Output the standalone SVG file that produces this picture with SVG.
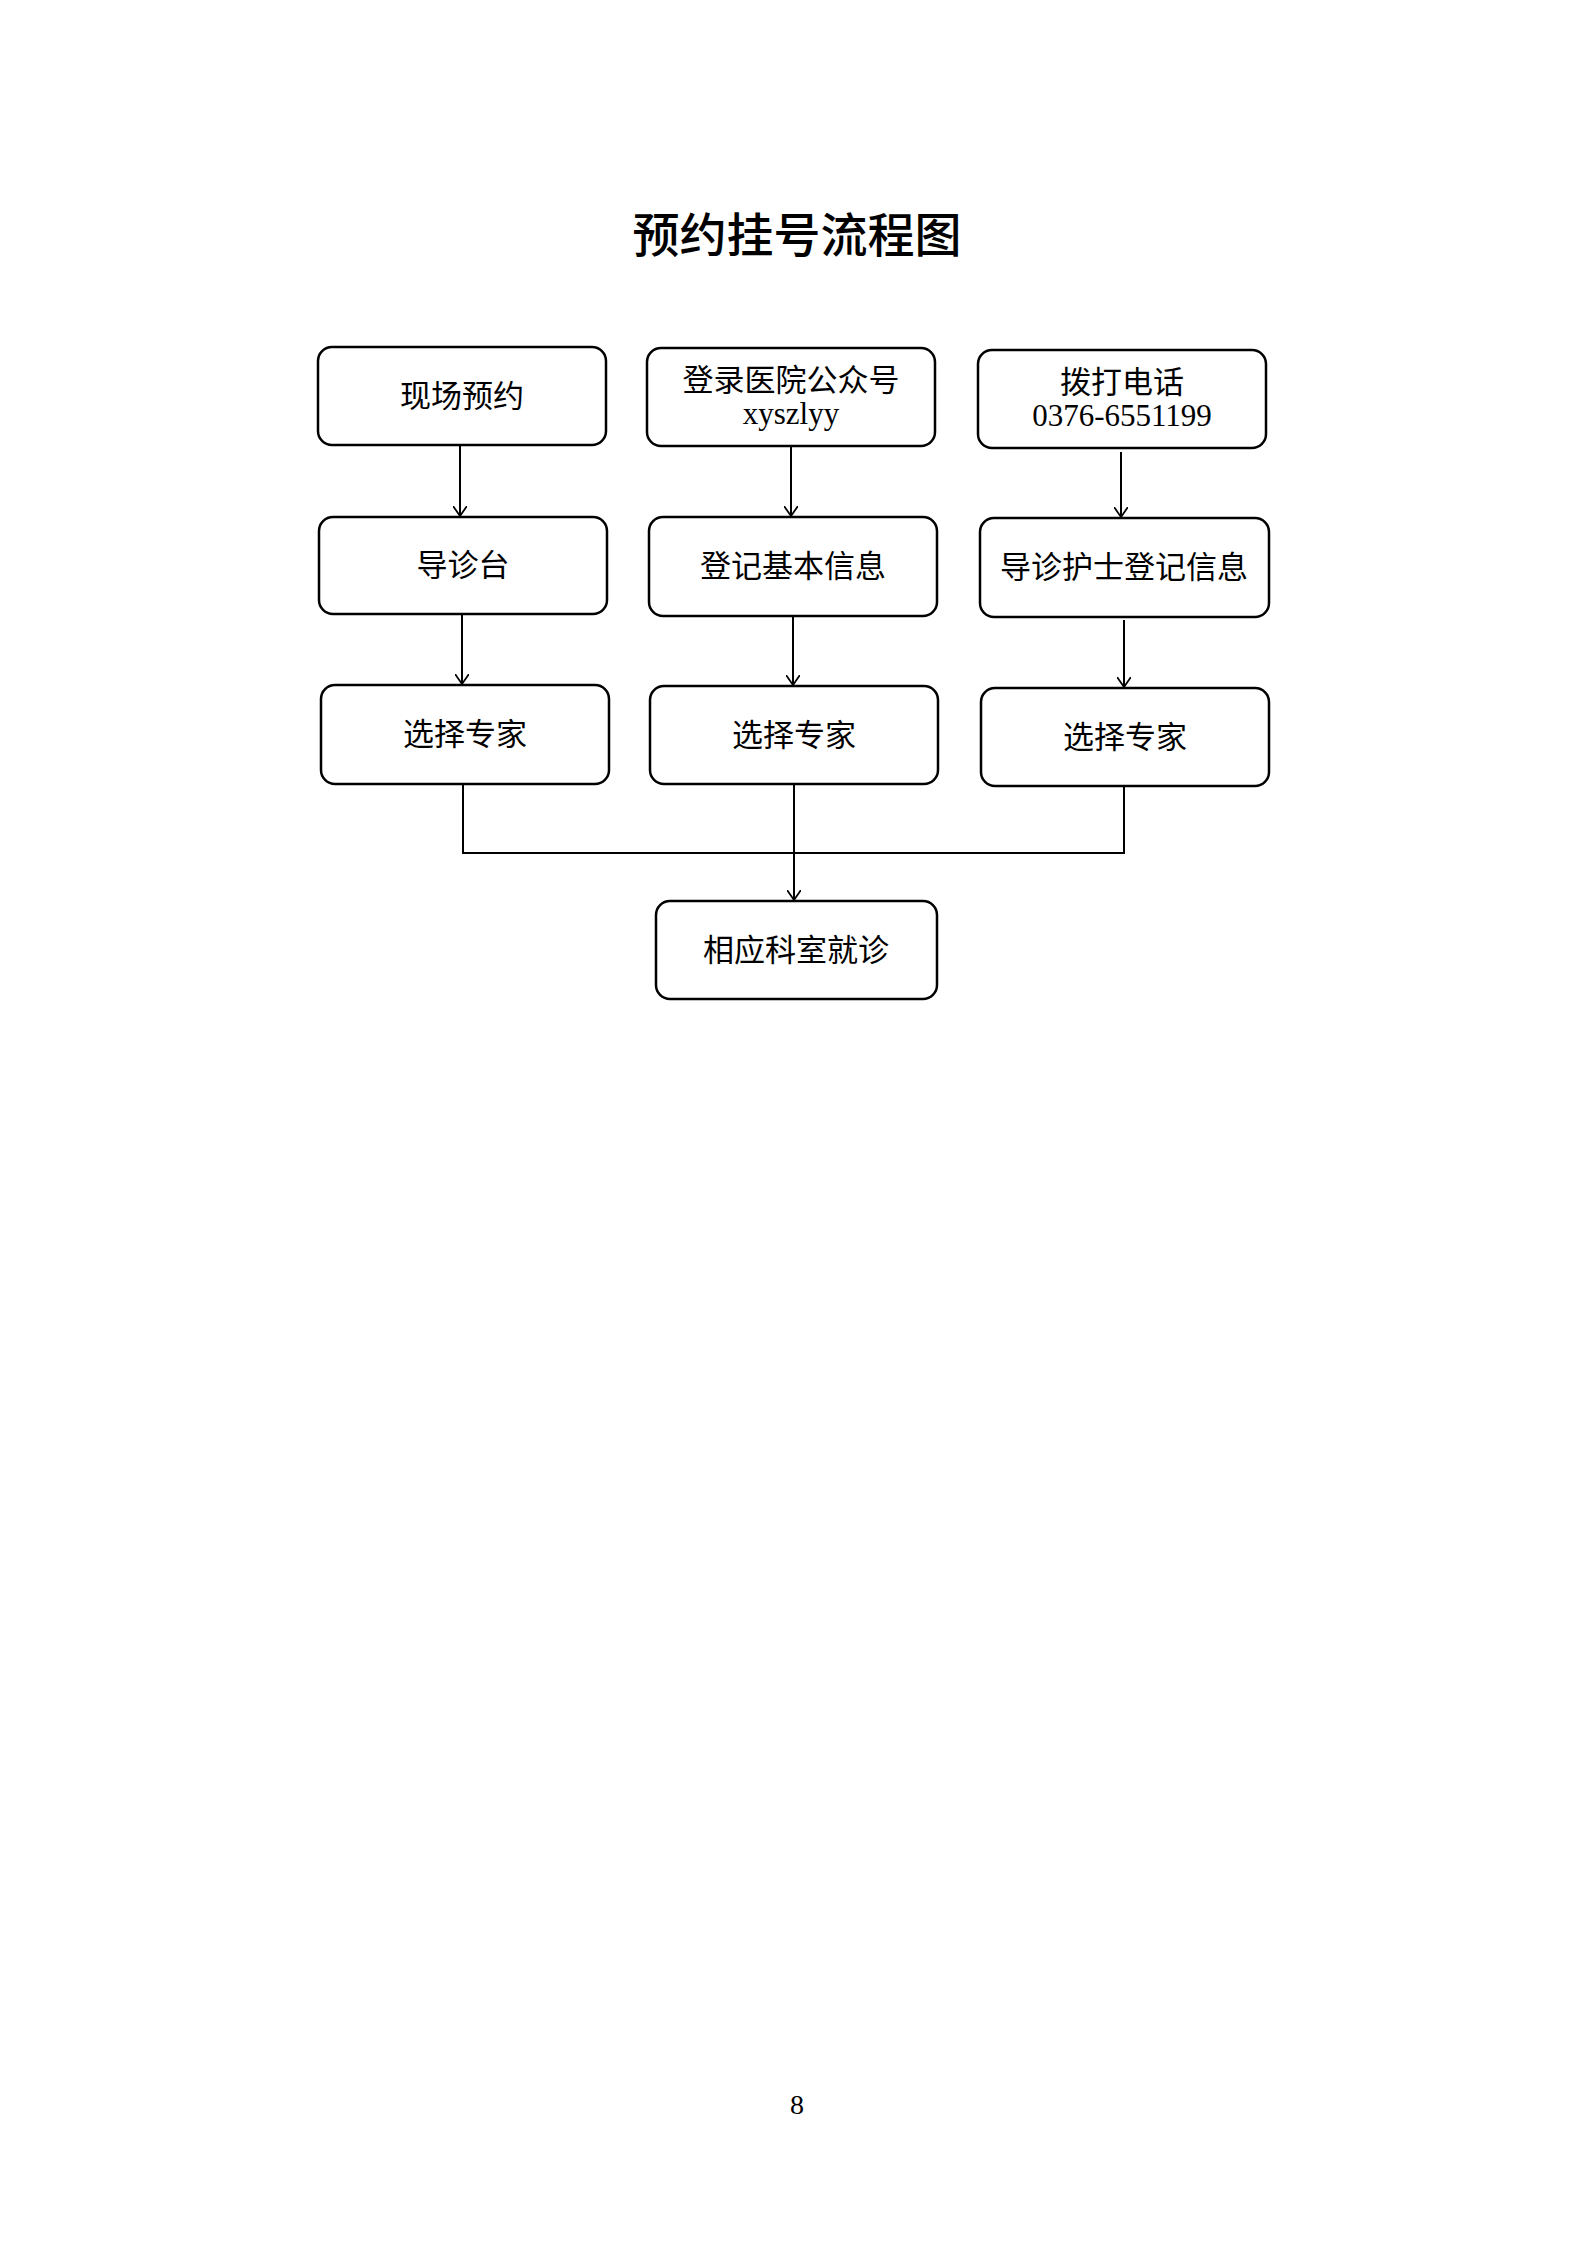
<svg xmlns="http://www.w3.org/2000/svg" width="1587" height="2245" viewBox="0 0 1587 2245">
<style>
.b{fill:#fff;stroke:#000;stroke-width:2.5}
.t{font-family:"Liberation Serif","Noto Sans CJK SC",serif;font-size:31px;text-anchor:middle;fill:#000}
.c{stroke:#000;stroke-width:2;fill:none}
</style>
<defs><marker id="a" markerWidth="14" markerHeight="14" refX="10" refY="7" orient="auto" markerUnits="userSpaceOnUse"><path d="M0,0 L10,7 L0,14" fill="none" stroke="#000" stroke-width="1.8"/></marker></defs>
<rect width="1587" height="2245" fill="#fff"/>
<text x="797" y="252" class="t" style="font-size:47px;font-weight:500">预约挂号流程图</text>
<g id="n1"><rect class="b" x="318" y="347" width="288" height="98" rx="14"/><text class="t" x="462" y="407">现场预约</text></g>
<g id="n2"><rect class="b" x="647" y="348" width="288" height="98" rx="14"/><text class="t" x="791" y="391">登录医院公众号</text><text class="t" x="791" y="424">xyszlyy</text></g>
<g id="n3"><rect class="b" x="978" y="350" width="288" height="98" rx="14"/><text class="t" x="1122" y="393">拨打电话</text><text class="t" x="1122" y="426">0376-6551199</text></g>
<g id="n4"><rect class="b" x="319" y="517" width="288" height="97" rx="14"/><text class="t" x="463" y="576">导诊台</text></g>
<g id="n5"><rect class="b" x="649" y="517" width="288" height="99" rx="14"/><text class="t" x="793" y="577">登记基本信息</text></g>
<g id="n6"><rect class="b" x="980" y="518" width="289" height="99" rx="14"/><text class="t" x="1124" y="578">导诊护士登记信息</text></g>
<g id="n7"><rect class="b" x="321" y="685" width="288" height="99" rx="14"/><text class="t" x="465" y="745">选择专家</text></g>
<g id="n8"><rect class="b" x="650" y="686" width="288" height="98" rx="14"/><text class="t" x="794" y="746">选择专家</text></g>
<g id="n9"><rect class="b" x="981" y="688" width="288" height="98" rx="14"/><text class="t" x="1125" y="748">选择专家</text></g>
<g id="n10"><rect class="b" x="656" y="901" width="281" height="98" rx="14"/><text class="t" x="796" y="961">相应科室就诊</text></g>
<g id="connectors">
<line class="c" x1="460" y1="445" x2="460" y2="516" marker-end="url(#a)"/>
<line class="c" x1="791" y1="446" x2="791" y2="516" marker-end="url(#a)"/>
<line class="c" x1="1121" y1="452" x2="1121" y2="517" marker-end="url(#a)"/>
<line class="c" x1="462" y1="614" x2="462" y2="684" marker-end="url(#a)"/>
<line class="c" x1="793" y1="616" x2="793" y2="685" marker-end="url(#a)"/>
<line class="c" x1="1124" y1="620" x2="1124" y2="687" marker-end="url(#a)"/>
<polyline class="c" points="463,784 463,853 1124,853 1124,786"/>
<line class="c" x1="794" y1="784" x2="794" y2="900" marker-end="url(#a)"/>
</g>
<text x="797" y="2114" class="t" style="font-size:28px">8</text>
</svg>
